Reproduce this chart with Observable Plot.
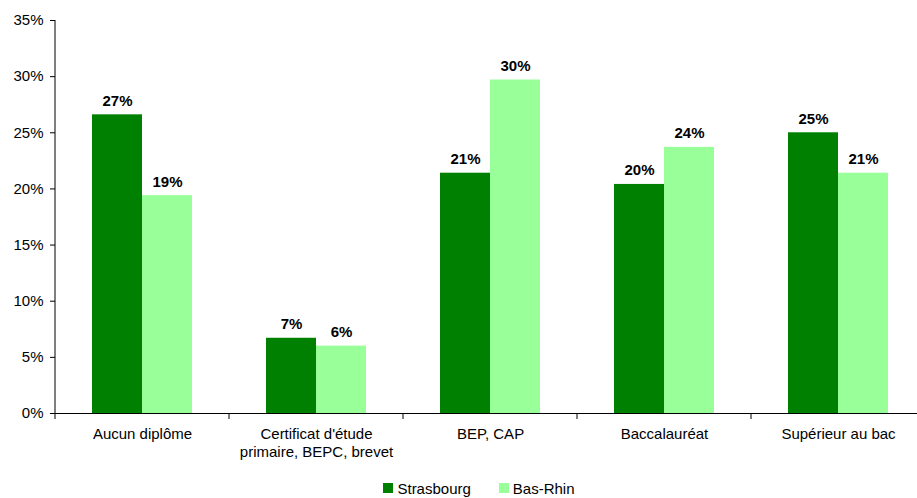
<!DOCTYPE html>
<html>
<head>
<meta charset="utf-8">
<script src="https://cdn.jsdelivr.net/npm/d3@7"></script>
<script src="https://cdn.jsdelivr.net/npm/@observablehq/plot@0.6"></script>
<style>
  html, body { margin: 0; padding: 0; background: #fff; }
  body { width: 917px; height: 498px; overflow: hidden; font-family: "Liberation Sans", Arial, sans-serif; }
  #legend { display: flex; justify-content: center; align-items: center; height: 20px; padding-left: 41px; font-size: 15px; color: #000; margin-top: 2px; }
  #legend .item { display: flex; align-items: center; }
  #legend .sw { width: 10px; height: 10px; margin-right: 4px; }
  #legend .item + .item { margin-left: 28px; }
</style>
</head>
<body>
<div id="chart"></div>
<div id="legend"></div>
<script>
const categories = ["Aucun diplôme", "Certificat d'étude primaire, BEPC, brevet", "BEP, CAP", "Baccalauréat", "Supérieur au bac"];
const categoryLabels = ["Aucun diplôme", "Certificat d'étude\nprimaire, BEPC, brevet", "BEP, CAP", "Baccalauréat", "Supérieur au bac"];
const seriesNames = ["Strasbourg", "Bas-Rhin"];
const seriesColors = ["#008000", "#99FF99"];
const strasbourg = [26.6, 6.7, 21.4, 20.4, 25.0];
const basRhin = [19.4, 6.0, 29.7, 23.7, 21.4];
const yTicks = [0, 5, 10, 15, 20, 25, 30, 35];

const data = [];
categories.forEach((c, i) => {
  data.push({cat: c, series: seriesNames[0], value: strasbourg[i]});
  data.push({cat: c, series: seriesNames[1], value: basRhin[i]});
});
const labelOf = new Map(categories.map((c, i) => [c, categoryLabels[i]]));

const plot = Plot.plot({
  width: 917,
  height: 476,
  marginLeft: 55,
  marginRight: -8,
  marginTop: 20,
  marginBottom: 63,
  style: {fontFamily: "Liberation Sans, Arial, sans-serif", fontSize: "15px", color: "#000", background: "#fff"},
  fx: {domain: categories, padding: 0, label: null},
  x: {domain: seriesNames, paddingInner: 0, paddingOuter: 0.74, axis: null},
  y: {domain: [0, 35], label: null},
  color: {domain: seriesNames, range: seriesColors},
  marks: [
    Plot.barY(data, {fx: "cat", x: "series", y: "value", fill: "series"}),
    Plot.text(data, {fx: "cat", x: "series", y: "value", text: d => Math.round(d.value) + "%", lineAnchor: "bottom", dy: -9, fontWeight: "bold", fill: "#000"}),
    Plot.ruleY([0], {stroke: "#000"}),
    Plot.axisY({ticks: yTicks, tickFormat: d => d + "%", tickSize: 5, tickPadding: 7, label: null, stroke: "#000"}),
    Plot.axisFx({anchor: "bottom", tickSize: 0, tickPadding: 13, label: null, tickFormat: d => labelOf.get(d), lineHeight: 1.2})
  ]
});
document.getElementById("chart").appendChild(plot);

// axis decorations drawn from the plot's own scales
const fx = plot.scale("fx");
const y = plot.scale("y");
const svg = d3.select(plot);
const x0 = fx.apply(categories[0]);
svg.append("line")
  .attr("x1", x0).attr("x2", x0)
  .attr("y1", y.apply(0)).attr("y2", y.apply(35))
  .attr("stroke", "#000");
categories.forEach(c => {
  const xb = fx.apply(c);
  svg.append("line")
    .attr("x1", xb).attr("x2", xb)
    .attr("y1", y.apply(0)).attr("y2", y.apply(0) + 6)
    .attr("stroke", "#000");
});

const legend = d3.select("#legend");
seriesNames.forEach((s, i) => {
  const item = legend.append("div").attr("class", "item");
  item.append("div").attr("class", "sw").style("background", seriesColors[i]);
  item.append("span").text(s);
});
</script>
</body>
</html>
